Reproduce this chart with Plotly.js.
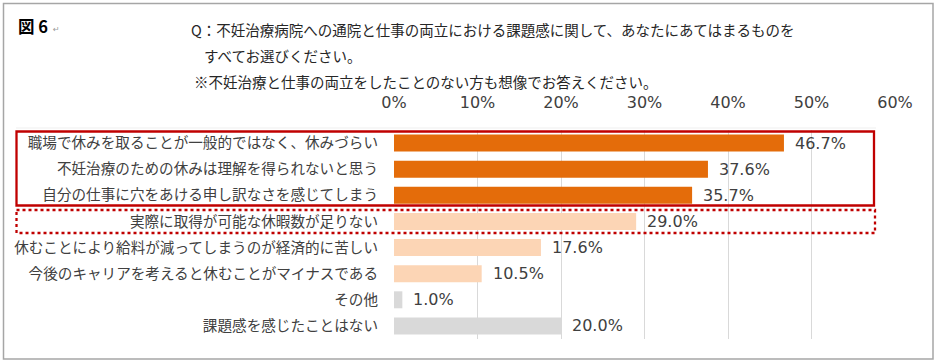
<!DOCTYPE html>
<html>
<head>
<meta charset="utf-8">
<script src="https://cdn.plot.ly/plotly-3.0.1.min.js"></script>
<style>html,body{margin:0;padding:0;background:#fff;}#chart{width:940px;height:362px;}</style>
</head>
<body>
<div id="chart"></div>
<script>
// ---- data ----
const categories = [
  "職場で休みを取ることが一般的ではなく、休みづらい",
  "不妊治療のための休みは理解を得られないと思う",
  "自分の仕事に穴をあける申し訳なさを感じてしまう",
  "実際に取得が可能な休暇数が足りない",
  "休むことにより給料が減ってしまうのが経済的に苦しい",
  "今後のキャリアを考えると休むことがマイナスである",
  "その他",
  "課題感を感じたことはない"
];
const values = [46.7, 37.6, 35.7, 29.0, 17.6, 10.5, 1.0, 20.0];
const tickValues = [0, 10, 20, 30, 40, 50, 60];
const tickLabels = ["0%", "10%", "20%", "30%", "40%", "50%", "60%"];
const figLabel = "図 6";
const questionLine1 = "Q：不妊治療病院への通院と仕事の両立における課題感に関して、あなたにあてはまるものを";
const questionLine2 = "すべてお選びください。";
const noteLine = "※不妊治療と仕事の両立をしたことのない方も想像でお答えください。";

// ---- styles ----
const DARK = "#E46C0A", LIGHT = "#FCD5B5", GRAY = "#D9D9D9";
const barColors = [DARK, DARK, DARK, LIGHT, LIGHT, LIGHT, GRAY, GRAY];

const W = 940, H = 362;
const M = {l: 394, r: 45, t: 130, b: 23};
const PW = W - M.l - M.r, PH = H - M.t - M.b;
const px = x => (x - M.l) / PW;
const py = y => (H - M.b - y) / PH;

const CJK = "'Noto Sans CJK JP', 'Noto Sans', sans-serif";
const NUM = "'DejaVu Sans', 'Noto Sans CJK JP', sans-serif";

const trace = {
  type: "bar",
  orientation: "h",
  x: values,
  y: categories,
  marker: {color: barColors},
  hoverinfo: "skip"
};

const annotations = values.map((v, i) => ({
  x: v, y: categories[i], xref: "x", yref: "y",
  text: v.toFixed(1) + "%",
  showarrow: false, xanchor: "left", yanchor: "middle", xshift: 9,
  font: {family: NUM, size: 16, color: "#404040"}
}));

annotations.push(
  {xref: "paper", yref: "paper", x: px(16), y: py(26), xanchor: "left", yanchor: "middle",
   text: "<b>" + figLabel + "</b>", showarrow: false, font: {family: CJK, size: 16.5, color: "#000"}},
  {xref: "paper", yref: "paper", x: px(51), y: py(29), xanchor: "left", yanchor: "middle",
   text: "↵", showarrow: false, font: {family: NUM, size: 8, color: "#999"}},
  {xref: "paper", yref: "paper", x: px(189), y: py(30), xanchor: "left", yanchor: "middle",
   text: questionLine1, showarrow: false, font: {family: CJK, size: 14.5, color: "#262626"}},
  {xref: "paper", yref: "paper", x: px(202), y: py(55), xanchor: "left", yanchor: "middle",
   text: questionLine2, showarrow: false, font: {family: CJK, size: 14.5, color: "#262626"}},
  {xref: "paper", yref: "paper", x: px(192), y: py(82), xanchor: "left", yanchor: "middle",
   text: noteLine, showarrow: false, font: {family: CJK, size: 14.5, color: "#262626"}}
);

const shapes = [
  // outer frame
  {type: "rect", xref: "paper", yref: "paper", x0: px(3.5), x1: px(933), y0: py(3.5), y1: py(359),
   line: {color: "#A6A6A6", width: 1.5}, fillcolor: "rgba(0,0,0,0)", layer: "below"},
  // faint chart area top line
  {type: "line", xref: "paper", yref: "paper", x0: px(16), x1: px(876), y0: py(128), y1: py(128),
   line: {color: "#EFEFEF", width: 1}, layer: "below"},
  // solid red box
  {type: "rect", xref: "paper", yref: "paper", x0: px(16.5), x1: px(874), y0: py(131.5), y1: py(205.5),
   line: {color: "#C00000", width: 2.3}, fillcolor: "rgba(0,0,0,0)"},
  // dotted red box
  {type: "rect", xref: "paper", yref: "paper", x0: px(16.5), x1: px(875), y0: py(210), y1: py(233),
   line: {color: "#C00000", width: 2.3, dash: "dot"}, fillcolor: "rgba(0,0,0,0)"}
];

const layout = {
  width: W, height: H,
  margin: M,
  paper_bgcolor: "#fff", plot_bgcolor: "#fff",
  showlegend: false,
  bargap: 0.35,
  xaxis: {
    range: [0, 60], side: "top",
    tickmode: "array", tickvals: tickValues, ticktext: tickLabels,
    showgrid: true, gridcolor: "#D9D9D9", gridwidth: 1,
    zeroline: false, showline: false, ticks: "",
    ticklabelstandoff: 18,
    tickfont: {family: NUM, size: 16, color: "#404040"},
    fixedrange: true
  },
  yaxis: {
    type: "category", autorange: "reversed",
    showgrid: false, zeroline: false, showline: false, ticks: "",
    ticklabelstandoff: 15,
    tickfont: {family: CJK, size: 14.6, color: "#404040"},
    fixedrange: true
  },
  annotations: annotations,
  shapes: shapes,
  font: {family: CJK}
};

Plotly.newPlot("chart", [trace], layout, {displayModeBar: false, staticPlot: true});
</script>
</body>
</html>
